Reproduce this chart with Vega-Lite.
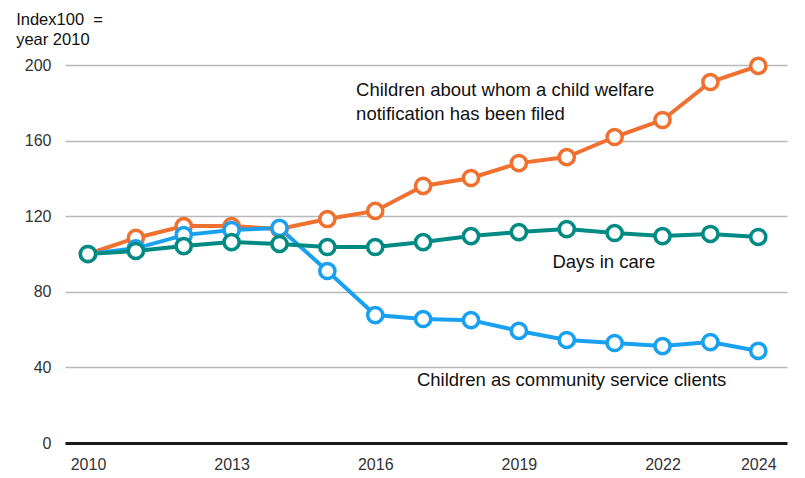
{
  "$schema": "https://vega.github.io/schema/vega-lite/v6.json",
  "width": 722,
  "height": 378,
  "autosize": {"type": "none"},
  "padding": {"left": 65, "top": 65, "right": 18, "bottom": 35},
  "background": "white",
  "config": {
    "font": "Liberation Sans",
    "view": {"stroke": null}
  },
  "datasets": {
    "series": [
      {"year": 2010, "value": 100, "series": "notif"},
      {"year": 2011, "value": 108.5, "series": "notif"},
      {"year": 2012, "value": 114.8, "series": "notif"},
      {"year": 2013, "value": 114.8, "series": "notif"},
      {"year": 2014, "value": 113.2, "series": "notif"},
      {"year": 2015, "value": 118.5, "series": "notif"},
      {"year": 2016, "value": 122.8, "series": "notif"},
      {"year": 2017, "value": 136, "series": "notif"},
      {"year": 2018, "value": 140.2, "series": "notif"},
      {"year": 2019, "value": 148.1, "series": "notif"},
      {"year": 2020, "value": 151.3, "series": "notif"},
      {"year": 2021, "value": 161.9, "series": "notif"},
      {"year": 2022, "value": 170.9, "series": "notif"},
      {"year": 2023, "value": 191, "series": "notif"},
      {"year": 2024, "value": 199.5, "series": "notif"},
      {"year": 2010, "value": 100, "series": "clients"},
      {"year": 2011, "value": 103, "series": "clients"},
      {"year": 2012, "value": 110, "series": "clients"},
      {"year": 2013, "value": 112.7, "series": "clients"},
      {"year": 2014, "value": 113.8, "series": "clients"},
      {"year": 2015, "value": 91, "series": "clients"},
      {"year": 2016, "value": 67.7, "series": "clients"},
      {"year": 2017, "value": 65.6, "series": "clients"},
      {"year": 2018, "value": 65, "series": "clients"},
      {"year": 2019, "value": 59.3, "series": "clients"},
      {"year": 2020, "value": 54.5, "series": "clients"},
      {"year": 2021, "value": 52.9, "series": "clients"},
      {"year": 2022, "value": 51.3, "series": "clients"},
      {"year": 2023, "value": 53.4, "series": "clients"},
      {"year": 2024, "value": 48.7, "series": "clients"},
      {"year": 2010, "value": 100, "series": "days"},
      {"year": 2011, "value": 101.6, "series": "days"},
      {"year": 2012, "value": 104.2, "series": "days"},
      {"year": 2013, "value": 106.3, "series": "days"},
      {"year": 2014, "value": 105.3, "series": "days"},
      {"year": 2015, "value": 103.7, "series": "days"},
      {"year": 2016, "value": 103.7, "series": "days"},
      {"year": 2017, "value": 106.3, "series": "days"},
      {"year": 2018, "value": 109.5, "series": "days"},
      {"year": 2019, "value": 111.6, "series": "days"},
      {"year": 2020, "value": 113.2, "series": "days"},
      {"year": 2021, "value": 111.1, "series": "days"},
      {"year": 2022, "value": 109.5, "series": "days"},
      {"year": 2023, "value": 110.6, "series": "days"},
      {"year": 2024, "value": 109, "series": "days"}
    ],
    "labels": [
      {"year": 2015.6, "value": 186.8, "text": ["Children about whom a child welfare", "notification has been filed"]},
      {"year": 2019.7, "value": 95.8, "text": ["Days in care"]},
      {"year": 2016.87, "value": 33.3, "text": ["Children as community service clients"]}
    ],
    "title": [
      {"year": 2008.5, "value": 223.8, "text": ["Index100\u00a0 =", "year 2010"]}
    ]
  },
  "encoding": {
    "x": {
      "field": "year",
      "type": "quantitative",
      "scale": {"domain": [2009.52, 2024.6], "nice": false, "zero": false},
      "axis": {
        "title": null,
        "values": [2010, 2013, 2016, 2019, 2022, 2024],
        "format": "d",
        "grid": false,
        "ticks": false,
        "domain": true,
        "domainColor": "#1a1a1a",
        "domainWidth": 3,
        "labelFont": "Liberation Sans",
        "labelFontSize": 16,
        "labelColor": "#333333",
        "labelPadding": 13
      }
    },
    "y": {
      "field": "value",
      "type": "quantitative",
      "scale": {"domain": [0, 200], "nice": false},
      "axis": {
        "title": null,
        "values": [0, 40, 80, 120, 160, 200],
        "grid": true,
        "gridColor": "#b8b8b8",
        "gridWidth": 1.5,
        "ticks": false,
        "domain": false,
        "labelFont": "Liberation Sans",
        "labelFontSize": 16,
        "labelColor": "#333333",
        "labelPadding": 14
      }
    }
  },
  "layer": [
    {
      "data": {"name": "series"},
      "mark": {
        "type": "line",
        "strokeWidth": 4,
        "point": {"filled": false, "fill": "white", "strokeWidth": 3.5, "size": 230, "opacity": 1}
      },
      "encoding": {
        "color": {
          "field": "series",
          "type": "nominal",
          "scale": {"domain": ["notif", "clients", "days"], "range": ["#F0712F", "#19A1F0", "#008A84"]},
          "legend": null
        }
      }
    },
    {
      "data": {"name": "labels"},
      "mark": {"type": "text", "align": "left", "baseline": "middle", "fontSize": 18.5, "lineHeight": 24, "color": "#111111", "font": "Liberation Sans"},
      "encoding": {"text": {"field": "text"}}
    },
    {
      "data": {"name": "title"},
      "mark": {"type": "text", "align": "left", "baseline": "middle", "fontSize": 16.5, "lineHeight": 20, "color": "#111111", "font": "Liberation Sans", "clip": false},
      "encoding": {"text": {"field": "text"}}
    }
  ]
}
